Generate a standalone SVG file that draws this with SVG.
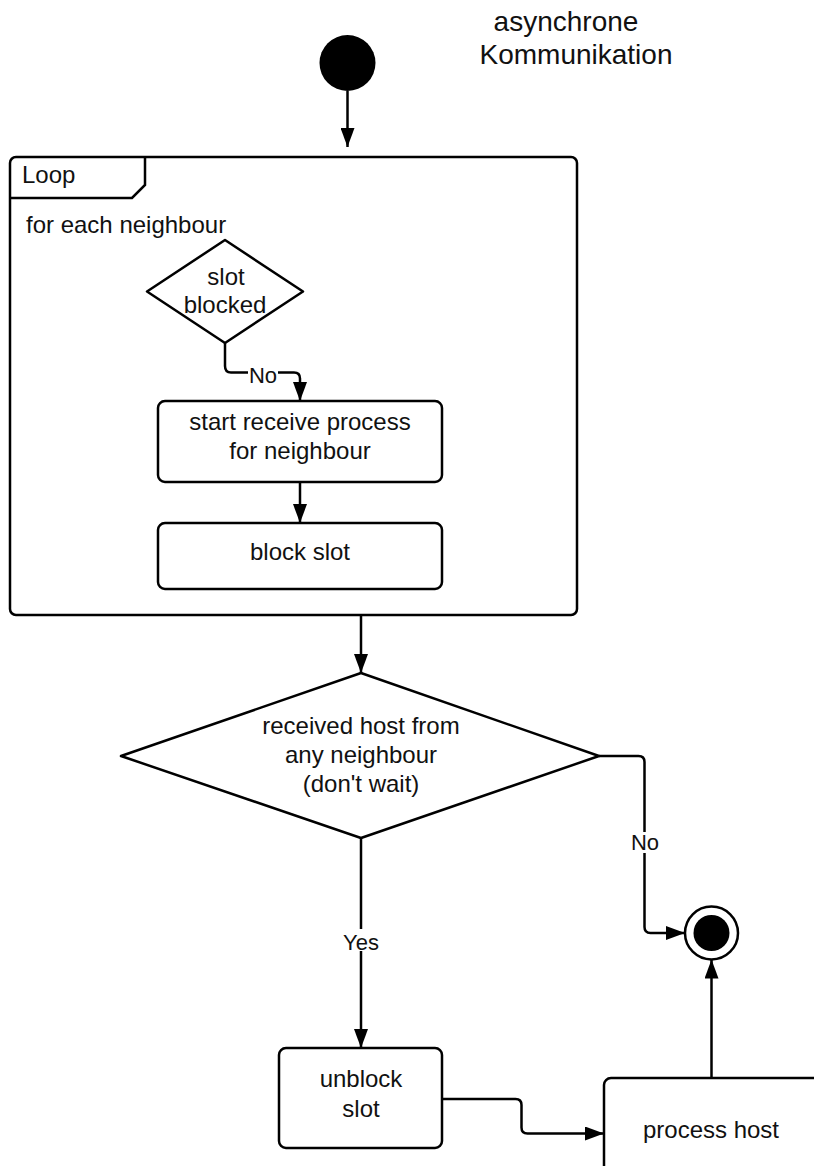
<svg xmlns="http://www.w3.org/2000/svg" width="814" height="1166" viewBox="0 0 814 1166">
<defs>
<marker id="arr" markerUnits="userSpaceOnUse" markerWidth="20" markerHeight="14" refX="19" refY="7" orient="auto">
<path d="M0,0 L19,7 L0,14 z" fill="#000"/>
</marker>
<style>
.s{fill:#fff;stroke:#000;stroke-width:2.5;stroke-linejoin:round}
.c{fill:none;stroke:#000;stroke-width:2.5;stroke-linejoin:round;marker-end:url(#arr)}
.t{font-family:"Liberation Sans",Arial,sans-serif;font-size:24px;fill:#111;text-anchor:middle}
.l{font-family:"Liberation Sans",Arial,sans-serif;font-size:22px;fill:#111;text-anchor:middle}
</style>
</defs>
<rect width="814" height="1166" fill="#fff"/>
<g id="title">
<text class="t" x="566" y="31" style="font-size:28px">asynchrone</text>
<text class="t" x="576" y="64" style="font-size:28px">Kommunikation</text>
</g>
<g id="start"><circle cx="347.5" cy="63" r="28" fill="#000"/></g>
<g id="loop">
<rect class="s" x="10" y="157" width="567" height="458" rx="6"/>
<path d="M10,198 L132,198 L145,185 L145,157" fill="none" stroke="#000" stroke-width="2.5"/>
<text class="t" x="22" y="183" style="text-anchor:start">Loop</text>
<text class="t" x="26" y="233" style="text-anchor:start">for each neighbour</text>
</g>
<g id="slotBlocked">
<polygon class="s" points="225,240 303,291.5 225,343 147,291.5"/>
<text class="t" x="226" y="285">slot</text>
<text class="t" x="225" y="313">blocked</text>
</g>
<g id="startReceive">
<rect class="s" x="158" y="401" width="284" height="81" rx="7"/>
<text class="t" x="300" y="430">start receive process</text>
<text class="t" x="300" y="459">for neighbour</text>
</g>
<g id="blockSlot">
<rect class="s" x="158" y="523" width="284" height="66" rx="7"/>
<text class="t" x="300" y="560">block slot</text>
</g>
<g id="received">
<polygon class="s" points="361,673 599,756 361,838 121,756"/>
<text class="t" x="361" y="734">received host from</text>
<text class="t" x="361" y="763">any neighbour</text>
<text class="t" x="361" y="792">(don't wait)</text>
</g>
<g id="end">
<circle cx="711.5" cy="933" r="26.5" fill="#fff" stroke="#000" stroke-width="2.5"/>
<circle cx="711.5" cy="933" r="18" fill="#000"/>
</g>
<g id="unblock">
<rect class="s" x="279" y="1048" width="163" height="100" rx="7"/>
<text class="t" x="361" y="1087">unblock</text>
<text class="t" x="361" y="1117">slot</text>
</g>
<g id="processHost">
<rect class="s" x="604" y="1078" width="220" height="120" rx="7"/>
<text class="t" x="711" y="1138">process host</text>
</g>
<g id="connectors">
<path class="c" d="M347.5,91 L347.5,147"/>
<path class="c" d="M225,343 L225,366 Q225,372.5 231,372.5 L294,372.5 Q300,372.5 300,378.5 L300,401"/>
<path class="c" d="M300,482 L300,523"/>
<path class="c" d="M361,615 L361,673"/>
<path class="c" d="M599,756 L638.5,756 Q644.5,756 644.5,762 L644.5,927 Q644.5,933 650.5,933 L685,933"/>
<path class="c" d="M361,838 L361,1048"/>
<path class="c" d="M442,1099 L515.5,1099 Q521.5,1099 521.5,1105 L521.5,1127.5 Q521.5,1133.5 527.5,1133.5 L604,1133.5"/>
<path class="c" d="M711.5,1078 L711.5,959.5"/>
<rect x="248" y="364" width="30" height="20" fill="#fff"/>
<text class="l" x="263" y="383">No</text>
<rect x="630" y="832" width="30" height="21" fill="#fff"/>
<text class="l" x="645" y="850">No</text>
<rect x="342" y="929" width="38" height="22" fill="#fff"/>
<text class="l" x="361" y="950">Yes</text>
</g>
</svg>
